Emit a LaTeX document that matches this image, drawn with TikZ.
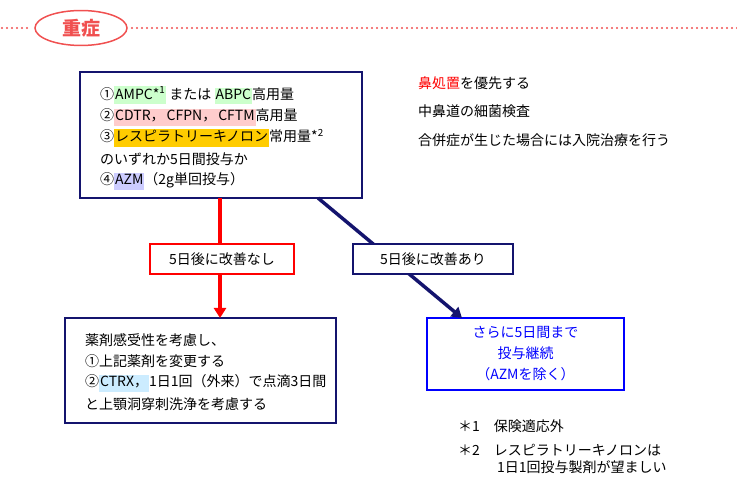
\documentclass[tikz,border=0pt]{standalone}
\usepackage{fontspec}
\setmainfont{Noto Sans CJK JP}
\usetikzlibrary{arrows.meta,shapes.geometric}
\definecolor{navy}{RGB}{20,20,110}
\definecolor{hlgreen}{RGB}{204,255,204}
\definecolor{hlpink}{RGB}{255,204,204}
\definecolor{hlorange}{RGB}{255,204,0}
\definecolor{hlblue}{RGB}{204,204,255}
\definecolor{hlsky}{RGB}{204,236,255}
\definecolor{headred}{RGB}{240,80,80}
\newcommand{\HLMark}[2]{{\setlength{\fboxsep}{1pt}\colorbox{#1}{\strut #2}}}
\tikzset{
  box/.style = {draw=navy, line width=1.8pt},
  txt/.style = {anchor=west, inner sep=0pt, font=\fontsize{14}{14}\selectfont},
  tag/.style = {draw, line width=1.6pt, minimum width=144pt, minimum height=30pt, fill=white, font=\fontsize{14}{14}\selectfont},
  arr/.style = {line width=3.5pt, -{Triangle[length=10pt,width=12pt]}}
}
\begin{document}
\begin{tikzpicture}[x=1pt,y=-1pt]
\useasboundingbox (0,0) rectangle (737,486);
% header
\draw[headred, line width=2.2pt, dash pattern=on 0pt off 5pt, line cap=round] (2,28) -- (30,28);
\draw[headred, line width=2.2pt, dash pattern=on 0pt off 5pt, line cap=round] (132,28) -- (737,28);
\node[ellipse, draw=headred, line width=1.5pt, minimum width=92pt, minimum height=34pt,
  font=\fontsize{19}{19}\bfseries\selectfont, text=headred] (head) at (81,28) {重症};

% main box
\draw[box] (80,72) rectangle (362,198);
\node[txt] (m1) at (100,95) {①\HLMark{hlgreen}{AMPC*\textsuperscript{1}} または \HLMark{hlgreen}{ABPC}高用量};
\node[txt] (m2) at (100,117) {②\HLMark{hlpink}{CDTR，}\HLMark{hlpink}{CFPN，}\HLMark{hlpink}{CFTM}高用量};
\node[txt] (m3) at (100,138) {③\HLMark{hlorange}{レスピラトリーキノロン}常用量*\textsuperscript{2}};
\node[txt] (m4) at (100,159) {のいずれか5日間投与か};
\node[txt] (m5) at (100,181) {④\HLMark{hlblue}{AZM}（2g単回投与）};
\coordinate (mainR) at (220,198);
\coordinate (mainD) at (318,198);

% right notes
\node[txt] (n1) at (418,83) {\textcolor{red}{鼻処置}を優先する};
\node[txt] (n2) at (418,111) {中鼻道の細菌検査};
\node[txt] (n3) at (418,140) {合併症が生じた場合には入院治療を行う};

% lower boxes
\draw[box] (65,318) rectangle (336,423);
\coordinate (lowL) at (220,318);
\node[txt] (l1) at (85,340) {薬剤感受性を考慮し、};
\node[txt] (l2) at (85,361) {①上記薬剤を変更する};
\node[txt] (l3) at (85,383) {②\HLMark{hlsky}{CTRX，}1日1回（外来）で点滴3日間};
\node[txt] (l4) at (85,404) {と上顎洞穿刺洗浄を考慮する};

\node[draw=blue, line width=1.8pt, minimum width=197pt, minimum height=72pt, text=blue,
  align=center, font=\fontsize{14}{21}\selectfont] (cont) at (525.5,354) {さらに5日間まで\\投与継続\\（AZMを除く）};
\coordinate (contT) at (462,318);

% connectors
\draw[navy, arr] (mainD) -- (contT);
\draw[red, line width=3.5pt] (mainR) -- (lowL |- 244,244);

% branches
\node[tag, draw=red] (noimp) at (222,259) {5日後に改善なし};
\node[tag, draw=navy, minimum width=160pt] (imp) at (433,259) {5日後に改善あり};
\draw[red, arr] (noimp.south -| mainR) -- (lowL);

% footnotes
\node[txt] (f1) at (458,426) {＊1\quad 保険適応外};
\node[txt] (f2) at (458,450) {＊2\quad レスピラトリーキノロンは};
\node[txt] (f3) at (497,467) {1日1回投与製剤が望ましい};
\end{tikzpicture}
\end{document}
